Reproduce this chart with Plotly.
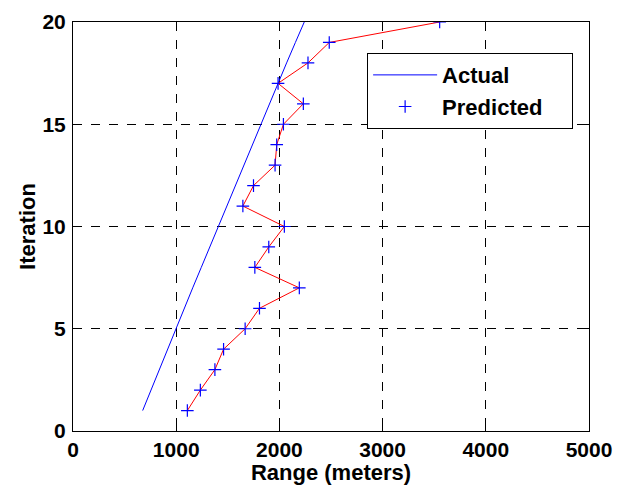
import plotly.graph_objects as go

# Iteration index and range estimates
iterations = list(range(1, 21))
actual_range = [675, 755, 835, 915, 995, 1078, 1160, 1243, 1325, 1408,
                1490, 1572, 1654, 1736, 1817, 1900, 1984, 2070, 2155, 2241]
predicted_range = [1108, 1234, 1375, 1459, 1668, 1807, 2193, 1762, 1897, 2048,
                   1646, 1749, 1958, 1974, 2039, 2232, 1987, 2277, 2483, 3553]

x_ticks = [0, 1000, 2000, 3000, 4000, 5000]
y_ticks = [0, 5, 10, 15, 20]

FAMILY = "Liberation Sans, Arial, sans-serif"
TICK_FONT = dict(family=FAMILY, size=21, color="black", weight="bold")
TITLE_FONT = dict(family=FAMILY, size=22, color="black", weight="bold")
LEGEND_FONT = dict(family=FAMILY, size=22, color="black", weight="bold")

# trailing non-breaking spaces widen the legend box a little
PAD = "\u00a0" * 4

fig = go.Figure()

fig.add_trace(go.Scatter(
    x=actual_range, y=iterations, mode="lines", name="Actual",
    line=dict(color="rgb(0,0,255)", width=1),
))
# red connecting line for the predicted values
fig.add_trace(go.Scatter(
    x=predicted_range, y=iterations, mode="lines", showlegend=False,
    line=dict(color="rgb(255,0,0)", width=1), hoverinfo="skip",
))
fig.add_trace(go.Scatter(
    x=predicted_range, y=iterations, mode="markers", name="Predicted" + PAD,
    marker=dict(symbol="cross-thin", size=9, line=dict(color="rgb(0,0,255)", width=1.2)),
))

axis_common = dict(
    showline=True, linecolor="black", linewidth=1, mirror="ticks",
    ticks="inside", ticklen=5, tickcolor="black",
    showgrid=True, gridcolor="black", griddash="dash", gridwidth=1,
    zeroline=False, tickfont=TICK_FONT, automargin=False,
)

fig.update_xaxes(range=[0, 5000], tickvals=x_ticks, ticktext=[str(v) for v in x_ticks],
                 ticklabelstandoff=0,
                 title=dict(text="Range (meters)", font=TITLE_FONT, standoff=2), **axis_common)
fig.update_yaxes(range=[0, 20], tickvals=y_ticks, ticktext=[str(v) for v in y_ticks],
                 ticklabelstandoff=2,
                 title=dict(text="Iteration", font=TITLE_FONT, standoff=0), **axis_common)

fig.update_layout(
    width=626, height=485,
    margin=dict(l=73, r=37, t=22, b=54),
    paper_bgcolor="white", plot_bgcolor="white",
    font=TICK_FONT,
    legend=dict(
        x=0.57, y=0.924, xanchor="left", yanchor="top",
        bgcolor="white", bordercolor="black", borderwidth=1,
        font=LEGEND_FONT, itemwidth=64, tracegroupgap=0,
    ),
    showlegend=True,
)

fig.write_html("out.html")
